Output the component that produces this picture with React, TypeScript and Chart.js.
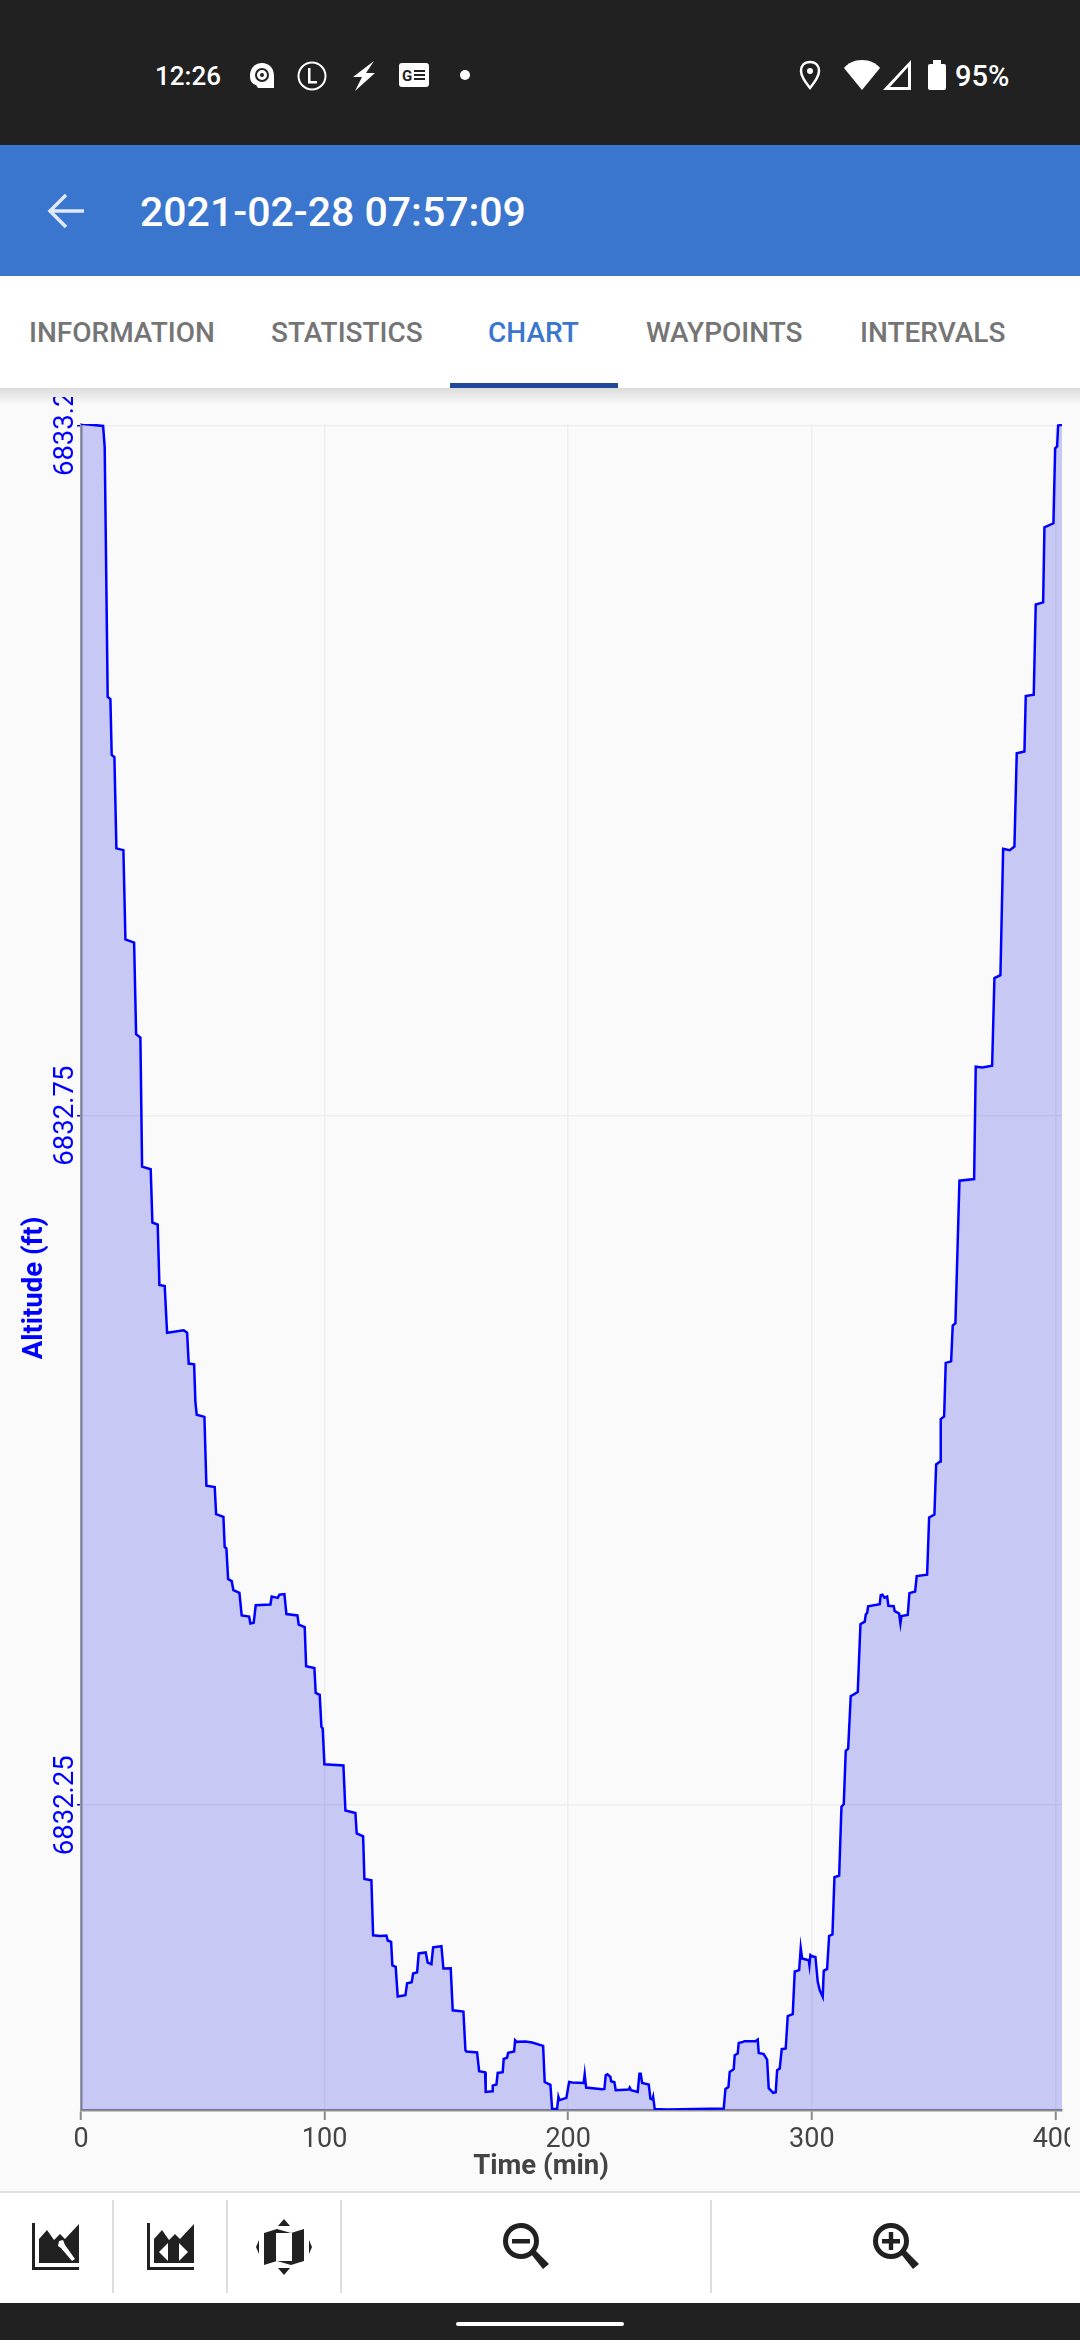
import { useEffect, useRef } from "react";
import Chart from "chart.js/auto";

const titleText = "2021-02-28 07:57:09";
const tabLabels = ["INFORMATION", "STATISTICS", "CHART", "WAYPOINTS", "INTERVALS"];
const tabLeft = [29, 271, 488, 646, 860];

const yTicks = [6832.25, 6832.75, 6833.25];
const xTicks = [0, 100, 200, 300, 400];

// minutes
const timeMin = [
  0, 9.07, 9.73, 10.96, 12.07, 12.6, 13.71, 14.53, 17.41, 18.23, 21.8, 22.62, 24.38, 25.08, 28.61, 29.31, 31.49, 32.18,
  34.36, 35.34, 42.16, 43.56, 44.21, 46.43, 46.96, 47.5, 50.66, 51.48, 54.89, 55.46, 58.46, 58.99, 59.69, 60.39, 61.86,
  62.56, 65.03, 65.97, 69.01, 69.54, 70.9, 71.72, 77.75, 78.28, 80.75, 81.45, 83.5, 84.32, 88.84, 89.37, 91.83, 92.41,
  95.81, 96.35, 97.99, 98.69, 99.22, 99.92, 107.72, 108.54, 112.64, 113.18, 115.81, 116.34, 119.21, 119.91, 122.91,
  125.37, 125.9, 127.3, 127.83, 129.19, 130.01, 133.17, 133.87, 135.76, 136.33, 137.97, 138.63, 141.51, 142.32, 143.84,
  144.54, 147.95, 148.77, 151.77, 152.59, 156.98, 157.8, 158.21, 162.6, 163.43, 165.89, 166.13, 168.76, 169.01, 170.53,
  171.06, 173.11, 173.52, 174.92, 175.33, 177.79, 178.2, 178.86, 182.43, 185.18, 189.7, 190.35, 192.69, 193.39, 195.44,
  195.98, 196.39, 199.26, 200.37, 201.6, 206.36, 206.77, 207.35, 213.92, 214.86, 215.4, 216.09, 217.32, 217.61, 218.97,
  219.5, 224.84, 225.25, 225.82, 228.53, 229.23, 229.76, 230.34, 233.05, 233.75, 234.57, 234.86, 235.51, 240.6, 263.84,
  264.54, 265.77, 266.3, 267.94, 268.35, 269.58, 269.99, 271.8, 272.34, 276.85, 277.8, 278.21, 280.26, 281.65, 282.31,
  284.12, 285.18, 285.76, 286.83, 287.65, 289.29, 290.11, 292.17, 292.99, 294.8, 295.45, 296.03, 298.74, 299.02, 299.43,
  300.13, 301.48, 302.43, 303.25, 304.48, 304.89, 306.28, 307.1, 308.47, 309.29, 311.22, 312.17, 313.11, 313.93, 314.92,
  315.97, 318.85, 319.96, 321.73, 322.14, 322.72, 323.12, 327.88, 328.29, 328.99, 329.81, 330.92, 331.45, 333.62, 334.04,
  335.84, 336.37, 336.78, 339.37, 340.07, 342.41, 343.06, 347.33, 348.16, 350.33, 351.03, 352.67, 352.92, 354.32, 354.97,
  357.19, 357.84, 358.95, 360.6, 366.63, 367.29, 369.92, 374.02, 374.96, 377.43, 378.54, 381.24, 383.17, 384.12, 387.28,
  387.82, 391.1, 391.92, 394.96, 395.49, 399.18, 399.88, 400.7, 401.11, 402.75,
];

// feet
const altitudeFt = [
  6833.2517, 6833.2501, 6833.2348, 6833.0536, 6833.052, 6833.0115, 6833.01, 6832.9438, 6832.9425, 6832.8778, 6832.8755,
  6832.8091, 6832.8066, 6832.713, 6832.7111, 6832.6725, 6832.671, 6832.6272, 6832.6264, 6832.5926, 6832.5944, 6832.5926,
  6832.5702, 6832.5697, 6832.5425, 6832.5331, 6832.5316, 6832.4817, 6832.4807, 6832.4611, 6832.4591, 6832.4372,
  6832.4362, 6832.414, 6832.4125, 6832.4059, 6832.4039, 6832.3876, 6832.3868, 6832.3818, 6832.3823, 6832.395, 6832.3955,
  6832.4013, 6832.4003, 6832.4026, 6832.4031, 6832.3886, 6832.3876, 6832.381, 6832.3792, 6832.3508, 6832.3494,
  6832.3314, 6832.33, 6832.3068, 6832.3056, 6832.2797, 6832.2788, 6832.2462, 6832.2444, 6832.2295, 6832.2275, 6832.1966,
  6832.1956, 6832.1557, 6832.1552, 6832.1555, 6832.1519, 6832.1509, 6832.1338, 6832.1328, 6832.1113, 6832.1122,
  6832.1209, 6832.1217, 6832.128, 6832.1289, 6832.1425, 6832.1432, 6832.1359, 6832.1347, 6832.147, 6832.1478, 6832.1316,
  6832.1318, 6832.1013, 6832.1004, 6832.0724, 6832.0714, 6832.0707, 6832.0571, 6832.0564, 6832.0421, 6832.0426,
  6832.0467, 6832.0475, 6832.0559, 6832.0564, 6832.066, 6832.067, 6832.0704, 6832.0714, 6832.0796, 6832.0784, 6832.0786,
  6832.0779, 6832.0755, 6832.0493, 6832.0472, 6832.0298, 6832.0298, 6832.0385, 6832.0361, 6832.0378, 6832.0493,
  6832.0489, 6832.0486, 6832.0549, 6832.0453, 6832.0441, 6832.0443, 6832.0542, 6832.0549, 6832.053, 6832.0498, 6832.0491,
  6832.0433, 6832.0438, 6832.0453, 6832.0433, 6832.0421, 6832.0552, 6832.0552, 6832.0486, 6832.0475, 6832.0373,
  6832.0366, 6832.0385, 6832.0298, 6832.0293, 6832.0301, 6832.0443, 6832.0457, 6832.0566, 6832.0586, 6832.0687,
  6832.0699, 6832.0776, 6832.0784, 6832.0789, 6832.0789, 6832.0801, 6832.0704, 6832.0695, 6832.0656, 6832.0448,
  6832.0414, 6832.0419, 6832.0578, 6832.0591, 6832.0731, 6832.0736, 6832.097, 6832.0985, 6832.1294, 6832.1304, 6832.1465,
  6832.1388, 6832.1376, 6832.134, 6832.1414, 6832.1405, 6832.14, 6832.1219, 6832.1159, 6832.111, 6832.1299, 6832.1313,
  6832.1552, 6832.1563, 6832.1978, 6832.1989, 6832.2489, 6832.2507, 6832.2895, 6832.291, 6832.329, 6832.3321, 6832.3813,
  6832.3831, 6832.3883, 6832.3894, 6832.3943, 6832.3958, 6832.4023, 6832.4027, 6832.4005, 6832.4013, 6832.3946,
  6832.3943, 6832.3907, 6832.389, 6832.382, 6832.3872, 6832.3879, 6832.4038, 6832.405, 6832.4161, 6832.4171, 6832.4586,
  6832.4608, 6832.4971, 6832.4993, 6832.53, 6832.5319, 6832.5707, 6832.5718, 6832.5977, 6832.5995, 6832.7028, 6832.704,
  6832.7855, 6832.7849, 6832.7862, 6832.8497, 6832.8519, 6832.9435, 6832.9425, 6832.9451, 6833.0128, 6833.0141,
  6833.0542, 6833.0552, 6833.1206, 6833.1222, 6833.1766, 6833.1795, 6833.2339, 6833.2352, 6833.2504, 6833.251,
];

const FONT = "Roboto, sans-serif";

// both axis titles sit off-centre from the plot in the original, so they are drawn by hand
const axisTitles = {
  id: "axisTitles",
  afterDraw(chart: any) {
    const { ctx } = chart;
    ctx.save();
    ctx.font = `bold 27.5px ${FONT}`;
    ctx.textAlign = "center";
    ctx.textBaseline = "middle";
    ctx.fillStyle = "#444444";
    ctx.fillText("Time (min)", 541, 1770);
    ctx.translate(35, 891);
    ctx.rotate(-Math.PI / 2);
    ctx.fillStyle = "#0000ff";
    ctx.fillText("Altitude (ft)", 0, 0);
    ctx.restore();
  },
};

function AltitudeChart() {
  const canvasRef = useRef<HTMLCanvasElement>(null);

  useEffect(() => {
    const ctx = canvasRef.current?.getContext("2d");
    if (!ctx) return;

    const chart = new Chart(ctx, {
      type: "line",
      data: {
        datasets: [
          {
            data: timeMin.map((t, i) => ({ x: t, y: altitudeFt[i] })),
            borderColor: "#0000ff",
            backgroundColor: "rgba(0,0,225,0.2)",
            borderWidth: 2.5,
            pointRadius: 0,
            tension: 0,
            fill: "start",
          },
        ],
      },
      plugins: [axisTitles],
      options: {
        animation: false,
        responsive: false,
        devicePixelRatio: 1,
        layout: { padding: { top: 27, right: 8, left: 0, bottom: 0 } },
        plugins: { legend: { display: false }, tooltip: { enabled: false } },
        scales: {
          x: {
            type: "linear",
            min: 0,
            max: 402.7,
            afterBuildTicks: (scale: any) => {
              scale.ticks = xTicks.map((value) => ({ value }));
            },
            afterFit: (scale: any) => {
              scale.height = 82;
              scale.paddingLeft = 0;
              scale.paddingRight = 0;
            },
            grid: { color: "#eeeeee", lineWidth: 1.5, tickColor: "#8a8a8a", tickLength: 10, tickWidth: 2 },
            border: { color: "#8f8f8f", width: 2.5 },
            ticks: {
              color: "#444444",
              padding: 4,
              maxRotation: 0,
              autoSkip: false,
              font: { family: FONT, size: 27 },
            },
          },
          y: {
            min: 6832.029,
            max: 6833.2515,
            afterBuildTicks: (scale: any) => {
              scale.ticks = yTicks.map((value) => ({ value }));
            },
            afterFit: (scale: any) => {
              scale.width = 81;
              scale.paddingTop = 0;
              scale.paddingBottom = 0;
            },
            grid: { color: "#eeeeee", lineWidth: 1.5, tickColor: "#0000ff", tickLength: 4, tickWidth: 1.5 },
            border: { color: "#9a9a9a", width: 2.5 },
            ticks: {
              color: "#0000ff",
              minRotation: 90,
              maxRotation: 90,
              crossAlign: "center",
              padding: -39,
              autoSkip: false,
              font: { family: FONT, size: 27.5 },
              callback: (v: any) => Number(v).toFixed(2),
            },
          },
        },
      },
    });

    return () => chart.destroy();
  }, []);

  return (
    <canvas
      ref={canvasRef}
      width={1070}
      height={1795}
      style={{ position: "absolute", left: 0, top: 397, width: 1070, height: 1795 }}
    />
  );
}

function Box({ x, y, w, h, bg, r }: { x: number; y: number; w: number; h: number; bg: string; r?: number }) {
  return <div style={{ position: "absolute", left: x, top: y, width: w, height: h, background: bg, borderRadius: r }} />;
}

function Label({ x, cy, size, weight, color, text }: { x: number; cy: number; size: number; weight: number; color: string; text: string }) {
  return (
    <div
      style={{
        position: "absolute",
        left: x,
        top: cy - size,
        lineHeight: `${size * 2}px`,
        fontSize: size,
        fontWeight: weight,
        color,
        fontFamily: FONT,
        whiteSpace: "nowrap",
      }}
    >
      {text}
    </div>
  );
}

function Svg({ x, y, w, h, children }: { x: number; y: number; w: number; h: number; children: any }) {
  return (
    <svg style={{ position: "absolute", left: x, top: y }} width={w} height={h} viewBox={`0 0 ${w} ${h}`}>
      {children}
    </svg>
  );
}

const INK = "#212121";

function MountainIcon({ x, wrench }: { x: number; wrench: boolean }) {
  return (
    <Svg x={x} y={2223} w={47} h={47}>
      <path d="M0 0H3V44H47V47H0Z" fill={INK} />
      <path d="M7 40V16L15 7L22 17L28 11L33 16L47 1V40Z" fill={INK} />
      {wrench ? (
        <path d="M27 18L31 17L33 22L43 36L40 38L29 25L26 23Z" fill="#fff" />
      ) : (
        <g fill="#fff">
          <path d="M21 20V38L12 29Z" />
          <path d="M32 20V38L41 29Z" />
        </g>
      )}
    </Svg>
  );
}

function MagnifierIcon({ x, plus }: { x: number; plus: boolean }) {
  return (
    <Svg x={x} y={2223} w={47} h={47}>
      <circle cx="18" cy="18" r="15.5" fill="none" stroke={INK} strokeWidth="5" />
      <path d="M28 31L32 27L46 41L40 46Z" fill={INK} />
      <path d="M9 16H27V20.500H9Z" fill={INK} />
      {plus && <path d="M15.800 9H20.200V27H15.800Z" fill={INK} />}
    </Svg>
  );
}

export default function App() {
  return (
    <div style={{ position: "absolute", left: 0, top: 0, width: 1080, height: 2340, overflow: "hidden", background: "#fafafa" }}>
      <AltitudeChart />

      {/* status bar */}
      <Box x={0} y={0} w={1080} h={145} bg="#212121" />
      <Label x={155} cy={76} size={26} weight={500} color="#fff" text="12:26" />
      <Svg x={249} y={63} w={26} h={26}>
        <path d="M1 13C1 5 6 0 13 0C20 0 25 5 25 13V25H9L7 22C3 21 1 18 1 13Z" fill="#fff" />
        <circle cx="13" cy="12" r="6" fill="none" stroke="#212121" strokeWidth="2" />
        <circle cx="13" cy="12" r="2" fill="#212121" />
      </Svg>
      <Svg x={297} y={61} w={30} h={30}>
        <circle cx="15" cy="15" r="13.500" fill="none" stroke="#fff" strokeWidth="2" />
        <path d="M11 7H13.500V20H20V22.500H11Z" fill="#fff" />
      </Svg>
      <Svg x={353} y={61} w={23} h={30}>
        <path d="M21 0L13 12H22L2 30L9 16H0Z" fill="#fff" />
      </Svg>
      <Svg x={399} y={63} w={30} h={24}>
        <rect width="30" height="24" rx="3" fill="#fff" />
        <text x="3" y="18" fontSize="15" fontWeight="700" fontFamily={FONT} fill="#212121">G</text>
        <path d="M15 7H26V9H15ZM15 11H26V13H15ZM15 15H26V17H15Z" fill="#212121" />
      </Svg>
      <Svg x={460} y={70} w={10} h={10}>
        <circle cx="5" cy="5" r="5" fill="#fff" />
      </Svg>
      <Svg x={799} y={60} w={22} h={30}>
        <path d="M11 2C5 2 2 6 2 11C2 17 11 28 11 28C11 28 20 17 20 11C20 6 17 2 11 2Z" fill="none" stroke="#fff" strokeWidth="2.500" />
        <circle cx="11" cy="11" r="3" fill="#fff" />
      </Svg>
      <Svg x={844} y={60} w={36} h={30}>
        <path d="M18 30L0 8C4 3 10 0 18 0C26 0 32 3 36 8Z" fill="#fff" />
      </Svg>
      <Svg x={883} y={60} w={28} h={30}>
        <path d="M28 0V30H0ZM25 7L7 27H25Z" fill="#fff" fillRule="evenodd" />
      </Svg>
      <Box x={928} y={64} w={18} h={26} bg="#fff" r={2} />
      <Box x={933} y={60} w={8} h={5} bg="#fff" />
      <Label x={955} cy={76} size={29} weight={500} color="#fff" text="95%" />

      {/* app bar */}
      <Box x={0} y={145} w={1080} h={131} bg="#3a75ce" />
      <Svg x={46} y={192} w={40} h={38}>
        <path d="M38 19H5M20 3L4 19L20 35" fill="none" stroke="#dfe9f7" strokeWidth="3.500" />
      </Svg>
      <Label x={140} cy={212} size={41} weight={500} color="#fff" text={titleText} />

      {/* tabs */}
      <Box x={0} y={388} w={1080} h={16} bg="linear-gradient(rgba(0,0,0,0.12), rgba(0,0,0,0))" />
      <Box x={0} y={276} w={1080} h={112} bg="#fff" />
      {tabLabels.map((label, i) => (
        <Label key={label} x={tabLeft[i]} cy={333} size={28} weight={500} color={label === "CHART" ? "#3a75ce" : "#757575"} text={label} />
      ))}
      <Box x={450} y={383} w={168} h={5} bg="#1f4a9c" />

      {/* bottom toolbar */}
      <Box x={0} y={2191} w={1080} h={112} bg="#fff" />
      <Box x={0} y={2191} w={1080} h={2} bg="#e0e0e0" />
      {[112, 226, 340, 710].map((x) => (
        <Box key={x} x={x} y={2200} w={2} h={93} bg="#dddddd" />
      ))}
      <MountainIcon x={32} wrench />
      <MountainIcon x={147} wrench={false} />
      <Svg x={256} y={2219} w={56} h={56}>
        <path d="M28 0L34 7H22ZM28 56L22 49H34ZM0 28L3 21V35ZM56 28L53 35V21Z" fill={INK} />
        <path d="M8 14L21 10L35 14L48 10V42L35 46L21 42L8 46Z" fill={INK} />
        <path d="M20 14H36V42H20Z" fill="#fff" />
      </Svg>
      <MagnifierIcon x={503} plus={false} />
      <MagnifierIcon x={873} plus />

      {/* nav bar */}
      <Box x={0} y={2303} w={1080} h={37} bg="#212121" />
      <Box x={456} y={2322} w={168} h={4} bg="#ffffff" r={2} />
    </div>
  );
}
